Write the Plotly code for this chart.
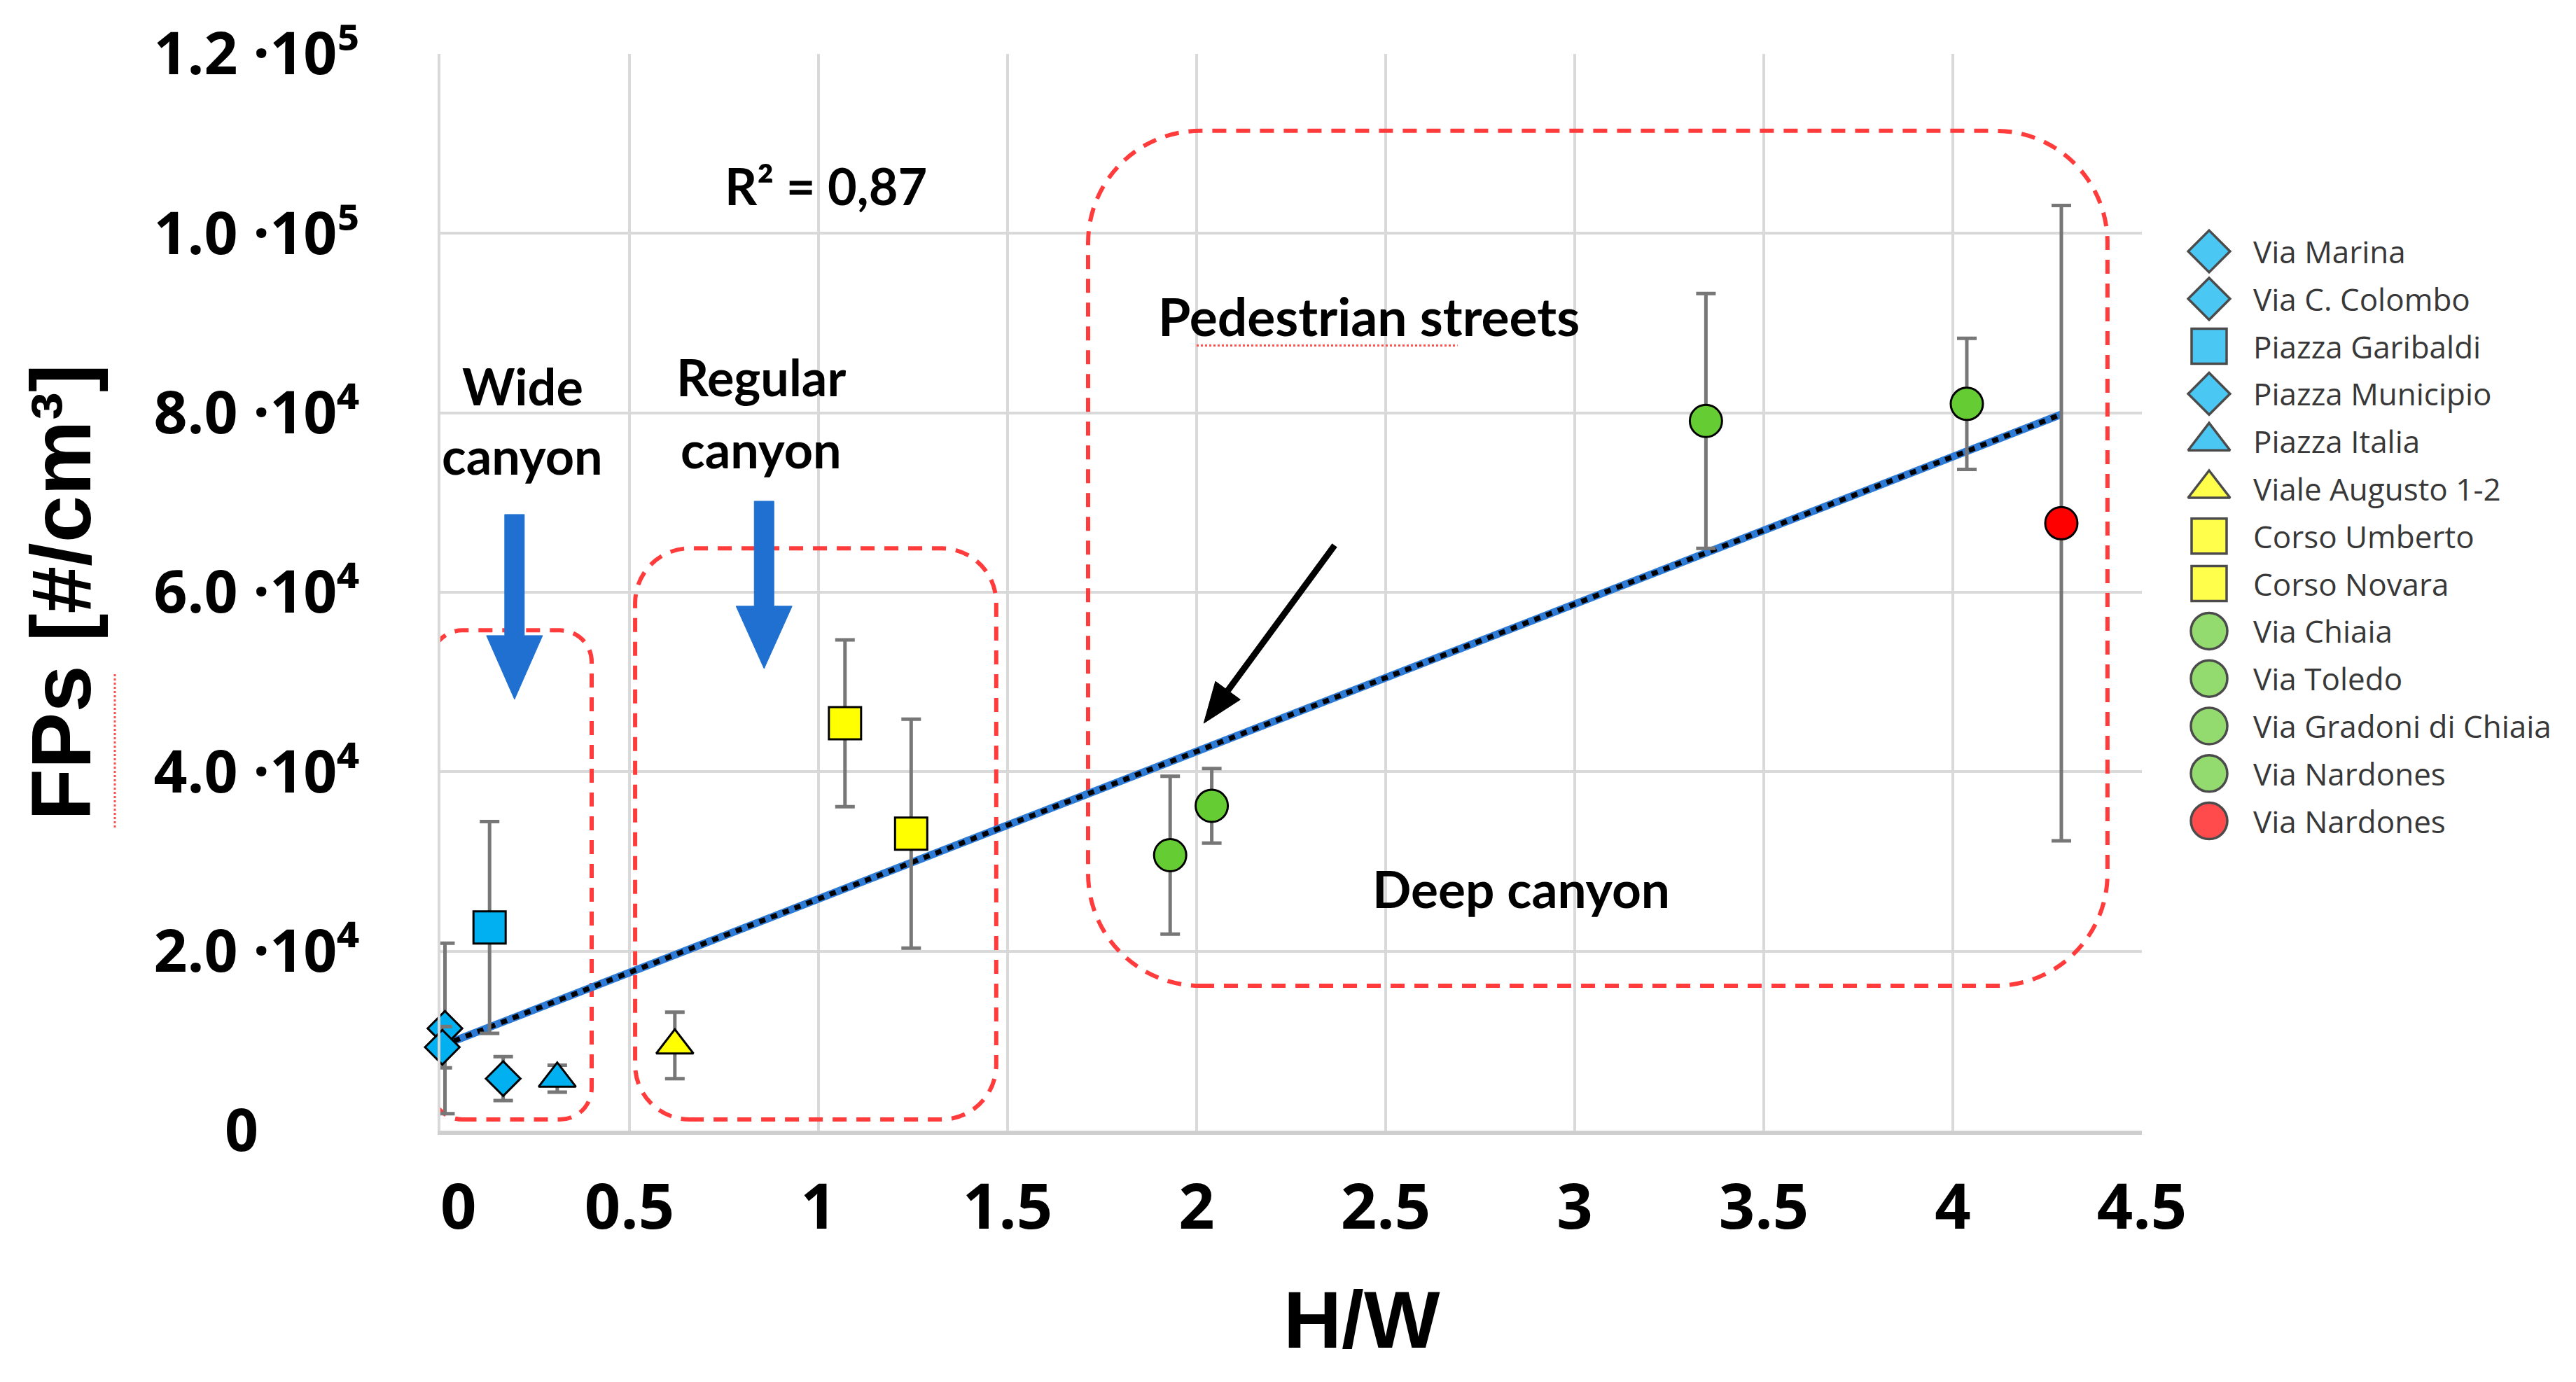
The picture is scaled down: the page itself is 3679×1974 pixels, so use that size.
import numpy as np
import plotly.graph_objects as go

# ---------------- data ----------------
names = ["Via Marina", "Via C. Colombo", "Piazza Garibaldi", "Piazza Municipio",
         "Piazza Italia", "Viale Augusto 1-2", "Corso Umberto", "Corso Novara",
         "Via Chiaia", "Via Toledo", "Via Gradoni di Chiaia", "Via Nardones", "Via Nardones"]
hw = [0.012, 0.005, 0.13, 0.166, 0.309, 0.62, 1.07, 1.245, 1.93, 2.04, 3.347, 4.037, 4.287]
fps = [11400, 9300, 22650, 5800, 5800, 9500, 45400, 33100, 30700, 36200, 79100, 81000, 67700]
fps_err = [9500, 2300, 11800, 2450, 1500, 3700, 9300, 12750, 8800, 4150, 14200, 7300, 35400]
symbols = ["diamond", "diamond", "square", "diamond", "triangle-up", "triangle-up",
           "square", "square", "circle", "circle", "circle", "circle", "circle"]
colors = ["#00B0F0", "#00B0F0", "#00B0F0", "#00B0F0", "#00B0F0", "#FFFF00",
          "#FFFF00", "#FFFF00", "#66CC33", "#66CC33", "#66CC33", "#66CC33", "#FF0000"]

x_ticks = [0, 0.5, 1, 1.5, 2, 2.5, 3, 3.5, 4, 4.5]
x_ticktext = ["\u20070", "0.5", "1", "1.5", "2", "2.5", "3", "3.5", "4", "4.5"]
y_ticks = [0, 20000, 40000, 60000, 80000, 100000, 120000]
y_ticktext = ["0\u2007\u2007\u2007", "2.0 ·10⁴", "4.0 ·10⁴", "6.0 ·10⁴",
              "8.0 ·10⁴", "1.0 ·10⁵", "1.2 ·10⁵"]

# canyon regions (H/W range, FPs range) and their corner radii (px)
region_x = [(-0.025, 0.40), (0.515, 1.47), (1.713, 4.409)]
region_y = [(1250, 55760), (1250, 64900), (16150, 111430)]
region_r = [45, 78, 160]

# ---------------- layout constants ----------------
W, H = 3679, 1974
PL, PR, PT, PB = 621, 3051, 69, 1607
XMAX, YMAX = 4.5, 120000
PX_X = (PR - PL) / XMAX
PX_Y = (PB - PT) / YMAX

fig = go.Figure()

# regression line computed from the data
slope, intercept = np.polyfit(hw, fps, 1)
xl = np.array([min(hw), max(hw)])
yl = slope * xl + intercept
fig.add_trace(go.Scatter(x=xl, y=yl, mode="lines", line=dict(color="#2E7BD6", width=11),
                         showlegend=False, hoverinfo="skip"))
fig.add_trace(go.Scatter(x=xl, y=yl, mode="lines", line=dict(color="black", width=7, dash="9px,9px"),
                         showlegend=False, hoverinfo="skip"))

plot_size = {"diamond": 38, "square": 46, "triangle-up": 46, "circle": 46}
for i in range(len(names)):
    fig.add_trace(go.Scatter(
        x=[hw[i]], y=[fps[i]], mode="markers", name=names[i],
        marker=dict(symbol=symbols[i], color=colors[i], size=plot_size[symbols[i]],
                    line=dict(color="black", width=3)),
        error_y=dict(type="data", array=[fps_err[i]], color="#777777", thickness=5, width=14),
        cliponaxis=False, showlegend=False))

# custom legend drawn on an auxiliary axis (large symbols)
LEG_TOP, LEG_STEP = 351, 67.8
leg_idx = list(range(len(names)))
leg_size = {"diamond": 46, "square": 50, "triangle-up": 52, "circle": 52}
fig.add_trace(go.Scatter(
    x=[57] * len(names), y=leg_idx, mode="markers", xaxis="x2", yaxis="y2",
    marker=dict(symbol=symbols, color=colors, size=[leg_size[s] for s in symbols],
                line=dict(color="black", width=3.5)),
    showlegend=False, hoverinfo="skip", cliponaxis=False))

# ---------------- shapes ----------------
def to_x(px):
    return (px - PL) / PX_X

def to_y(py):
    return (PB - py) / PX_Y

def rrect(x0, x1, y0, y1, r):
    rx, ry = r / PX_X, r / PX_Y
    k = 0.5523
    return (f"M{x0+rx},{y0} L{x1-rx},{y0} "
            f"C{x1-rx+k*rx},{y0} {x1},{y0+ry-k*ry} {x1},{y0+ry} "
            f"L{x1},{y1-ry} "
            f"C{x1},{y1-ry+k*ry} {x1-rx+k*rx},{y1} {x1-rx},{y1} "
            f"L{x0+rx},{y1} "
            f"C{x0+rx-k*rx},{y1} {x0},{y1-ry+k*ry} {x0},{y1-ry} "
            f"L{x0},{y0+ry} "
            f"C{x0},{y0+ry-k*ry} {x0+rx-k*rx},{y0} {x0+rx},{y0} Z")

shapes = []
for (x0, x1), (y0, y1), r in zip(region_x, region_y, region_r):
    shapes.append(dict(type="path", path=rrect(x0, x1, y0, y1, r), xref="x", yref="y",
                       line=dict(color="#FF3B3B", width=6, dash="20px,14px"), layer="between"))

def down_arrow(xc, ytop, yhead, ytip, shaft_px=14, head_px=40):
    sw, hw_ = shaft_px / PX_X, head_px / PX_X
    return (f"M{xc-sw},{ytop} L{xc+sw},{ytop} L{xc+sw},{yhead} L{xc+hw_},{yhead} "
            f"L{xc},{ytip} L{xc-hw_},{yhead} L{xc-sw},{yhead} Z")

# blue arrows (arrow x, shaft top, head top, tip)
blue_arrows = [(0.196, 68670, 55170, 48070), (0.856, 70150, 58450, 51500)]
for a in blue_arrows:
    shapes.append(dict(type="path", path=down_arrow(*a), xref="x", yref="y",
                       fillcolor="#1F70D1", line=dict(color="#1F70D1", width=1), layer="between"))

# black "pedestrian streets" arrow: tail and tip in data units
arrow_tail = (2.365, 65240)
arrow_tip = (2.019, 45410)
tx, ty = PL + arrow_tail[0] * PX_X, PB - arrow_tail[1] * PX_Y
hx, hy = PL + arrow_tip[0] * PX_X, PB - arrow_tip[1] * PX_Y
L = np.hypot(hx - tx, hy - ty)
ux, uy = (hx - tx) / L, (hy - ty) / L
HEAD_LEN, HEAD_HALF = 58, 22
bx, by = hx - HEAD_LEN * ux, hy - HEAD_LEN * uy
nx, ny = -uy, ux
shapes.append(dict(type="line", xref="x", yref="y", x0=to_x(tx), y0=to_y(ty), x1=to_x(bx + 4 * ux),
                   y1=to_y(by + 4 * uy), line=dict(color="black", width=9), layer="above"))
shapes.append(dict(type="path", xref="x", yref="y", fillcolor="black", line=dict(color="black", width=1),
                   path=(f"M{to_x(hx)},{to_y(hy)} L{to_x(bx + HEAD_HALF * nx)},{to_y(by + HEAD_HALF * ny)} "
                         f"L{to_x(bx - HEAD_HALF * nx)},{to_y(by - HEAD_HALF * ny)} Z"), layer="above"))

# spell-check squiggles
shapes.append(dict(type="line", xref="x", yref="y", x0=2.0, x1=2.69, y0=87500, y1=87500,
                   line=dict(color="#FF5050", width=3, dash="dot"), layer="above"))
shapes.append(dict(type="line", xref="paper", yref="paper", x0=156 / W, x1=156 / W,
                   y0=1 - 955 / H, y1=1 - 1177 / H,
                   line=dict(color="#FF5050", width=3, dash="dot")))

# ---------------- annotations ----------------
lato = dict(family="Lato", color="black", weight=700)
ann = []
def txt(x, y, t, size):
    ann.append(dict(x=x, y=y, xref="x", yref="y", text=t, showarrow=False,
                    font=dict(size=size, **lato), xanchor="center", yanchor="middle"))

txt(1.019, 105300, "R² = 0,87", 72)
txt(0.217, 83000, "Wide", 72)
txt(0.217, 75300, "canyon", 72)
txt(0.848, 84000, "Regular", 72)
txt(0.848, 76000, "canyon", 72)
txt(2.456, 90800, "Pedestrian streets", 75)
txt(2.859, 27000, "Deep canyon", 73)

# legend labels
for i, nm in enumerate(names):
    ann.append(dict(x=118, y=leg_idx[i], xref="x2", yref="y2", text=nm, showarrow=False,
                    xanchor="left", yanchor="middle",
                    font=dict(family="Open Sans", size=44, color="#383838")))

# x-axis title
ann.append(dict(x=1937 / W, y=1 - 1877 / H, xref="paper", yref="paper", text="H/W", showarrow=False,
                xanchor="center", yanchor="middle",
                font=dict(family="Liberation Sans", size=115, color="black", weight=700)))

axis_font = dict(family="Open Sans", size=90, color="black", weight=700)

fig.update_layout(
    width=W, height=H,
    margin=dict(l=0, r=0, t=0, b=0, pad=0),
    paper_bgcolor="white", plot_bgcolor="white",
    showlegend=False,
    shapes=shapes, annotations=ann,
    xaxis=dict(domain=[PL / W, PR / W], range=[0, XMAX], tickvals=x_ticks, ticktext=x_ticktext,
               tickfont=axis_font, ticks="", ticklabelstandoff=26,
               showgrid=True, gridcolor="#D9D9D9", gridwidth=4,
               showline=True, linecolor="#CFCFCF", linewidth=6, mirror=False, zeroline=False,
               automargin=False),
    yaxis=dict(domain=[1 - PB / H, 1 - PT / H], range=[0, YMAX], tickvals=y_ticks, ticktext=y_ticktext,
               tickfont=dict(family="Open Sans", size=84, color="black", weight=700),
               ticks="", ticklabelstandoff=95,
               showgrid=True, gridcolor="#D9D9D9", gridwidth=4,
               showline=True, linecolor="#D9D9D9", linewidth=4, zeroline=False, automargin=False,
               title=dict(text="FPs [#/cm³]",
                          font=dict(family="Liberation Sans", size=121, color="black", weight=700),
                          standoff=50)),
    xaxis2=dict(domain=[3090 / W, 1.0], range=[0, W - 3090], visible=False, anchor="y2", fixedrange=True),
    yaxis2=dict(domain=[0, 1], range=[(H - LEG_TOP) / LEG_STEP, -LEG_TOP / LEG_STEP],
                visible=False, anchor="x2", fixedrange=True),
)

fig.write_html("out.html")
